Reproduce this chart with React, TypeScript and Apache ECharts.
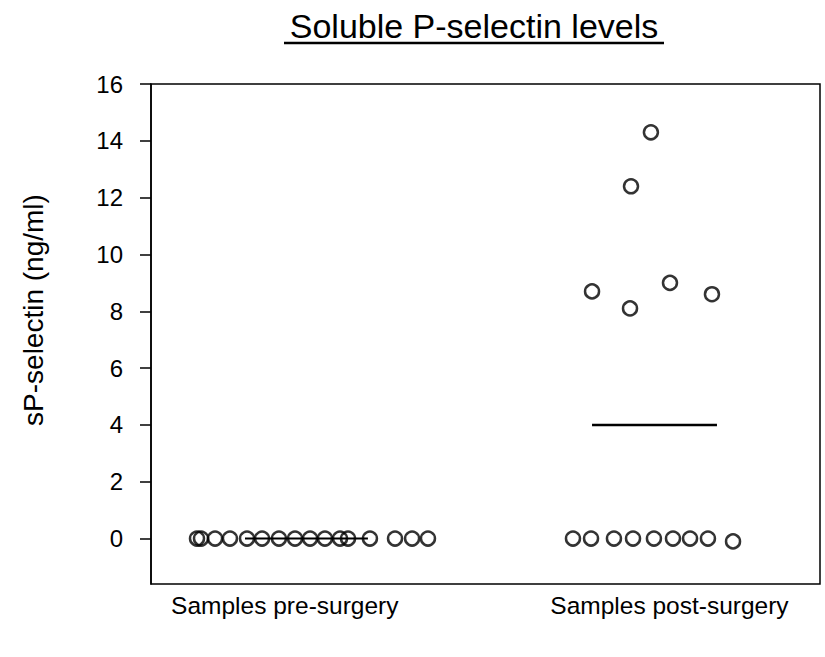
import React, { useEffect, useRef } from "react";
import * as echarts from "echarts";

const categories = ["Samples pre-surgery", "Samples post-surgery"];
const categoryLabelPos = [0.8, 3.1];
const yTicks = [0, 2, 4, 6, 8, 10, 12, 14, 16];

// pre-surgery samples: [x position (jittered), sP-selectin ng/ml]
const preX = [0.275, 0.299, 0.383, 0.472, 0.574, 0.664, 0.765, 0.861, 0.951, 1.04, 1.13, 1.178, 1.309, 1.459, 1.561, 1.656];
const preY = [0, 0, 0, 0, 0, 0, 0, 0, 0, 0, 0, 0, 0, 0, 0, 0];
// post-surgery samples
const postX = [2.523, 2.631, 2.768, 2.882, 3.007, 3.121, 3.223, 3.33, 3.48, 2.637, 2.864, 2.87, 2.989, 3.103, 3.354];
const postY = [0, 0, 0, 0, 0, 0, 0, 0, -0.1, 8.7, 8.1, 12.4, 14.3, 9.0, 8.6];
// medians: [xStart, xEnd, value]
const preMedian = [0.562, 1.297, 0];
const postMedian = [2.637, 3.384, 4];

const FONT = "'Liberation Sans', Arial, sans-serif";

export default function App() {
  const ref = useRef<HTMLDivElement>(null);
  useEffect(() => {
    const chart = echarts.init(ref.current!, null, { renderer: "svg" });
    const circleStyle = {
      color: "rgba(0,0,0,0)",
      borderColor: "#000",
      borderWidth: 2.5,
    };
    chart.setOption({
      animation: false,
      backgroundColor: "#fff",
      grid: {
        left: 151,
        top: 84,
        right: 5,
        bottom: 73,
        show: true,
        borderColor: "#000",
        borderWidth: 1.5,
        backgroundColor: "transparent",
      },
      xAxis: {
        type: "value",
        min: 0,
        max: 4,
        splitLine: { show: false },
        axisLine: { show: false },
        axisTick: { show: false },
        axisLabel: {
          customValues: categoryLabelPos,
          formatter: (v: number) => {
            const i = categoryLabelPos.findIndex((p) => Math.abs(p - v) < 1e-6);
            return i >= 0 ? categories[i] : "";
          },
          color: "#000",
          fontFamily: FONT,
          fontSize: 24.5,
          margin: 9,
        },
      },
      yAxis: {
        type: "value",
        min: -1.6,
        max: 16,
        splitLine: { show: false },
        axisLine: { show: true, lineStyle: { color: "#000", width: 1.5 } },
        axisTick: {
          show: true,
          customValues: yTicks,
          length: 11,
          lineStyle: { color: "#000", width: 1.5 },
        },
        axisLabel: {
          customValues: yTicks,
          color: "#000",
          fontFamily: FONT,
          fontSize: 24,
          margin: 28,
        },
      },
      graphic: [
        {
          type: "text",
          x: 474,
          y: 26,
          style: {
            text: "Soluble P-selectin levels",
            font: `34px ${FONT}`,
            fill: "#000",
            align: "center",
            verticalAlign: "middle",
          },
        },
        {
          type: "line",
          shape: { x1: 284, y1: 43, x2: 664, y2: 43 },
          style: { stroke: "#000", lineWidth: 2.5 },
        },
        {
          type: "text",
          x: 33,
          y: 310,
          rotation: Math.PI / 2,
          style: {
            text: "sP-selectin (ng/ml)",
            font: `28px ${FONT}`,
            fill: "#000",
            align: "center",
            verticalAlign: "middle",
          },
        },
      ],
      series: [
        {
          type: "scatter",
          symbol: "circle",
          symbolSize: 14,
          itemStyle: circleStyle,
          data: preX.map((x, i) => [x, preY[i]]),
          z: 3,
        },
        {
          type: "scatter",
          symbol: "circle",
          symbolSize: 14,
          itemStyle: circleStyle,
          data: postX.map((x, i) => [x, postY[i]]),
          z: 3,
        },
        {
          type: "line",
          symbol: "none",
          lineStyle: { color: "#000", width: 2 },
          data: [
            [preMedian[0], preMedian[2]],
            [preMedian[1], preMedian[2]],
          ],
          z: 2,
        },
        {
          type: "line",
          symbol: "none",
          lineStyle: { color: "#000", width: 2.5 },
          data: [
            [postMedian[0], postMedian[2]],
            [postMedian[1], postMedian[2]],
          ],
          z: 2,
        },
      ],
    });
    return () => chart.dispose();
  }, []);
  return <div ref={ref} style={{ width: 825, height: 657, position: "absolute", left: 0, top: 0 }} />;
}
